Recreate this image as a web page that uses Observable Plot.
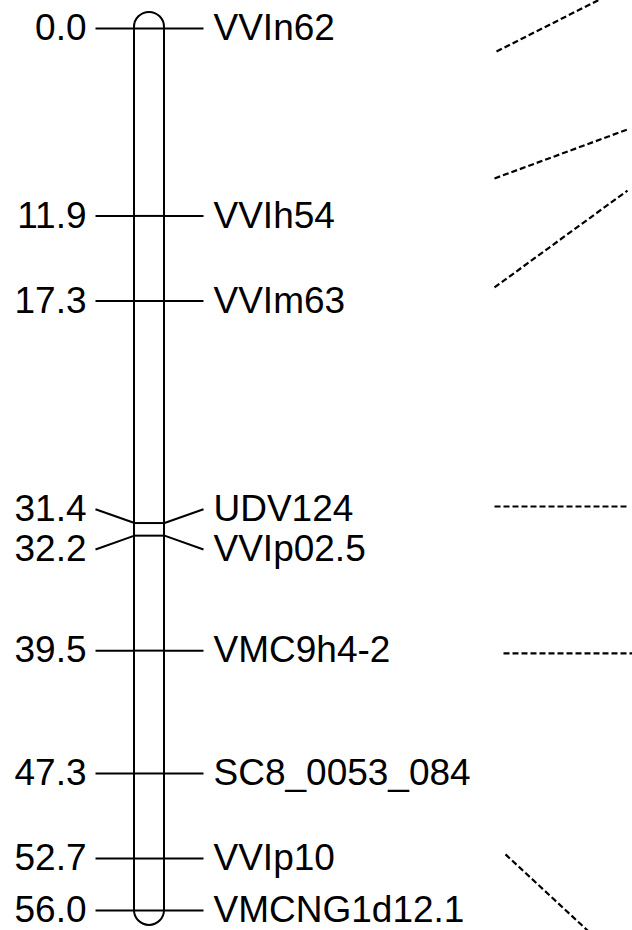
<!DOCTYPE html>
<html>
<head>
<meta charset="utf-8">
<script src="https://cdn.jsdelivr.net/npm/d3@7"></script>
<script src="https://cdn.jsdelivr.net/npm/@observablehq/plot@0.6"></script>
<style>
  html, body { margin: 0; padding: 0; background: #fff; }
  svg { display: block; }
</style>
</head>
<body>
<div id="chart"></div>
<script>
// Marker data (cM positions along the linkage group)
const markerNames = ["VVIn62", "VVIh54", "VVIm63", "UDV124", "VVIp02.5", "VMC9h4-2", "SC8_0053_084", "VVIp10", "VMCNG1d12.1"];
const markerPos   = [0.0, 11.9, 17.3, 31.4, 32.2, 39.5, 47.3, 52.7, 56.0];
// label positions (spread apart where markers are too close)
const labelPos    = [0.0, 11.9, 17.3, 30.52, 33.08, 39.5, 47.3, 52.7, 56.0];

// Chromosome extent (cM, including rounded ends)
const chromTop = -1.02;
const chromBottom = 56.95;

// Dashed connectors to the neighbouring (cropped) linkage group
const connFromY = [1.46, 9.52, 16.44, 30.35, 39.68, 52.44];
const connToY   = [-2.73, 6.41, 10.29, 30.35, 39.68, 59.62];
const connFromX = [496, 494, 494, 494, 503, 505];
const connToX   = [627, 627, 627, 627, 632, 627];

// layout columns (x units)
const chromX1 = 134, chromX2 = 164;
const tickLeftX = 95, tickRightX = 203;
const leftTextX = 86, rightTextX = 213;

const markers = markerNames.map((name, i) => ({name, pos: markerPos[i], lab: labelPos[i]}));
const segs = markers.flatMap(m => [
  {x1: tickLeftX, y1: m.lab, x2: chromX1, y2: m.pos},
  {x1: chromX1, y1: m.pos, x2: chromX2, y2: m.pos},
  {x1: chromX2, y1: m.pos, x2: tickRightX, y2: m.lab}
]);
const conns = connFromY.map((y, i) => ({x1: connFromX[i], y1: y, x2: connToX[i], y2: connToY[i]}));

const chart = Plot.plot({
  width: 632,
  height: 930,
  margin: 0,
  x: {domain: [0, 632], range: [0, 632], axis: null},
  y: {domain: [0, 56], range: [28, 910], axis: null},
  style: {fontFamily: "'Liberation Sans', Arial, sans-serif", background: "white"},
  marks: [
    Plot.rect([{x1: chromX1, x2: chromX2, y1: chromTop, y2: chromBottom}], {
      x1: "x1", x2: "x2", y1: "y1", y2: "y2", rx: 15,
      fill: "white", stroke: "black", strokeWidth: 2
    }),
    Plot.link(segs, {x1: "x1", y1: "y1", x2: "x2", y2: "y2", stroke: "black", strokeWidth: 2}),
    Plot.link(conns, {x1: "x1", y1: "y1", x2: "x2", y2: "y2", stroke: "black", strokeWidth: 2.2,
      strokeDasharray: "6,3", clip: true}),
    Plot.text(markers, {x: () => leftTextX, y: "lab", text: d => d.pos.toFixed(1),
      textAnchor: "end", fontSize: 37, fill: "black"}),
    Plot.text(markers, {x: () => rightTextX, y: "lab", text: "name",
      textAnchor: "start", fontSize: 37, fill: "black"})
  ]
});
document.getElementById("chart").appendChild(chart);
</script>
</body>
</html>
